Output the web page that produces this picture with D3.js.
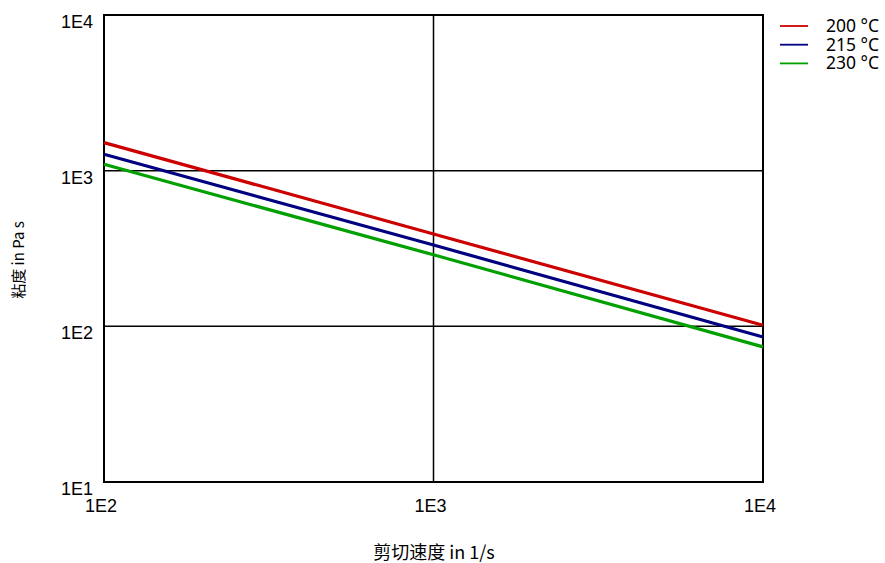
<!DOCTYPE html>
<html>
<head>
<meta charset="utf-8">
<script src="https://d3js.org/d3.v7.min.js"></script>
<style>
  body { margin: 0; background: #fff; }
</style>
</head>
<body>
<svg id="chart"></svg>
<script>
  // data
  var shearRates = [100, 1000, 10000]
  var visc200 = [1514, 392, 101.6]
  var visc215 = [1274, 333, 85.5]
  var visc230 = [1099, 288, 73.8]
  var seriesNames = ['200 °C', '215 °C', '230 °C']
  var seriesColors = ['#cc0000', '#000080', '#00a000']
  var xTicks = [100, 1000, 10000]
  var xTickLabels = ['1E2', '1E3', '1E4']
  var yTicks = [10, 100, 1000, 10000]
  var yTickLabels = ['1E1', '1E2', '1E3', '1E4']

  var allSeries = [visc200, visc215, visc230]

  var svg = d3.select('#chart').attr('width', 885).attr('height', 563)

  // plot box (window.top is taken, so prefixed names)
  var plotLeft = 104, plotRight = 763, plotTop = 15, plotBottom = 482

  var x = d3.scaleLog().domain([100, 10000]).range([plotLeft, plotRight])
  var y = d3.scaleLog().domain([10, 10000]).range([plotBottom, plotTop])

  // grid lines
  svg.append('g').selectAll('line').data(xTicks).enter().append('line')
      .attr('x1', function (d) {return x(d)}).attr('x2', function (d) {return x(d)})
      .attr('y1', plotTop).attr('y2', plotBottom)
      .style('stroke', '#000').style('stroke-width', 1.5)
  svg.append('g').selectAll('line').data(yTicks).enter().append('line')
      .attr('y1', function (d) {return y(d)}).attr('y2', function (d) {return y(d)})
      .attr('x1', plotLeft).attr('x2', plotRight)
      .style('stroke', '#000').style('stroke-width', 1.5)

  // frame
  svg.append('rect').attr('x', plotLeft).attr('y', plotTop)
      .attr('width', plotRight - plotLeft).attr('height', plotBottom - plotTop)
      .attr('fill', 'none').style('stroke', '#000').style('stroke-width', 2)

  // axes (labels only)
  var xAxis = d3.axisBottom(x).tickValues(xTicks)
      .tickFormat(function (d, i) {return xTickLabels[i]}).tickSize(0)
  var gx = svg.append('g').attr('transform', 'translate(0,' + plotBottom + ')').call(xAxis)
  gx.select('.domain').remove()
  gx.selectAll('text').attr('dy', null).attr('y', 30).attr('dx', -3.5)
      .style('font-family', '"Liberation Sans", Arial, sans-serif').style('font-size', '18px').attr('fill', '#000')

  var yAxis = d3.axisLeft(y).tickValues(yTicks)
      .tickFormat(function (d, i) {return yTickLabels[i]}).tickSize(0)
  var gy = svg.append('g').attr('transform', 'translate(' + plotLeft + ',0)').call(yAxis)
  gy.select('.domain').remove()
  gy.selectAll('text').attr('dy', null).attr('x', -11).attr('y', 12.5)
      .style('font-family', '"Liberation Sans", Arial, sans-serif').style('font-size', '18px').attr('fill', '#000')

  // series
  var line = d3.line()
      .x(function (d, i) {return x(shearRates[i])})
      .y(function (d) {return y(d)})
  svg.append('g').selectAll('path').data(allSeries).enter().append('path')
      .attr('d', line)
      .attr('fill', 'none')
      .style('stroke', function (d, i) {return seriesColors[i]})
      .style('stroke-width', 3.2)

  // legend
  var legend = svg.append('g').selectAll('g').data(seriesNames).enter().append('g')
      .attr('transform', function (d, i) {return 'translate(780,' + (26 + 18.7 * i) + ')'})
  legend.append('line').attr('x1', 0).attr('x2', 28).attr('y1', 0).attr('y2', 0)
      .style('stroke', function (d, i) {return seriesColors[i]}).style('stroke-width', 1.8)
  legend.append('text').attr('x', 46).attr('y', 6).text(function (d) {return d})
      .style('font-family', '"Noto Sans", sans-serif').style('font-size', '17.5px')

  // axis titles
  svg.append('text').attr('x', 434).attr('y', 559).attr('text-anchor', 'middle')
      .style('font-family', '"Noto Sans CJK SC", sans-serif').style('font-size', '18px')
      .text('剪切速度 in 1/s')
  svg.append('text').attr('transform', 'translate(24,260) rotate(-90)').attr('text-anchor', 'middle')
      .style('font-family', '"Noto Sans CJK SC", sans-serif').style('font-size', '15px')
      .text('粘度 in Pa s')
</script>
</body>
</html>
